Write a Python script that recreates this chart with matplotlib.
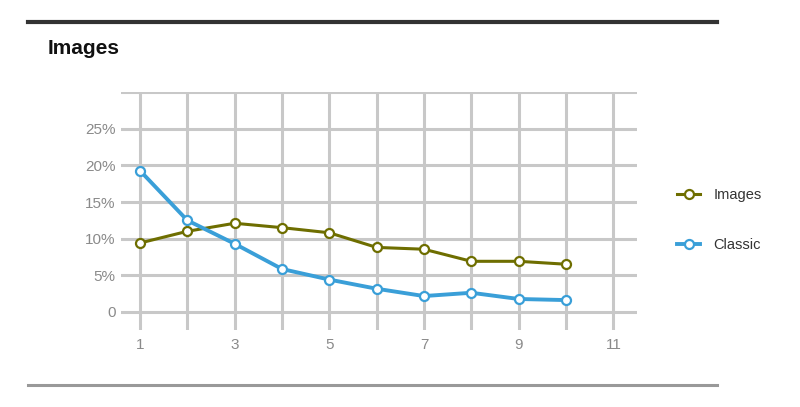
import matplotlib
matplotlib.use("Agg")
import matplotlib.pyplot as plt
from matplotlib.lines import Line2D

plt.rcParams['font.family'] = ['Liberation Sans Narrow', 'Liberation Sans', 'DejaVu Sans']

positions = [1, 2, 3, 4, 5, 6, 7, 8, 9, 10]
images = [9.4, 11.0, 12.1, 11.5, 10.8, 8.8, 8.55, 6.9, 6.9, 6.5]
classic = [19.3, 12.5, 9.3, 5.85, 4.4, 3.15, 2.15, 2.6, 1.75, 1.6]
y_ticks = [0, 5, 10, 15, 20, 25, 30]
y_labels = ["0", "5%", "10%", "15%", "20%", "25%", ""]
x_ticks = [1, 2, 3, 4, 5, 6, 7, 8, 9, 10, 11]
x_labels = ["1", "", "3", "", "5", "", "7", "", "9", "", "11"]

olive = "#6e6e00"
blue = "#3a9fd8"
grid_c = "#c8c8c8"
label_c = "#8a8a8a"

fig = plt.figure(figsize=(8, 4.07), dpi=100)
ax = fig.add_axes([0.15125, 0.189, 0.645, 0.586])

ax.plot(positions, images, color=olive, lw=2.2, marker="o", ms=6.5,
        mfc="white", mec=olive, mew=1.6, label="Images", zorder=3)
ax.plot(positions, classic, color=blue, lw=2.8, marker="o", ms=6.5,
        mfc="white", mec=blue, mew=1.6, label="Classic", zorder=3)

ax.set_xlim(0.6, 11.5)
ax.set_ylim(-2.5, 30.1)
ax.set_xticks(x_ticks)
ax.set_xticklabels(x_labels)
ax.set_yticks(y_ticks)
ax.set_yticklabels(y_labels)
ax.grid(True, color=grid_c, lw=2.2)
ax.set_axisbelow(True)
for s in ax.spines.values():
    s.set_visible(False)
ax.tick_params(length=0, colors=label_c, labelsize=11)
ax.tick_params(axis="y", pad=4)
ax.tick_params(axis="x", pad=6)

fig.text(0.06, 0.882, "Images", fontsize=15, fontweight="bold", color="#111111",
         va="center", ha="left")

fig.add_artist(Line2D([0.035, 0.896], [0.946, 0.946], color="#333333", lw=3,
                      transform=fig.transFigure))
fig.add_artist(Line2D([0.035, 0.896], [0.054, 0.054], color="#999999", lw=2.2,
                      transform=fig.transFigure))

leg = fig.legend(loc="center left", bbox_to_anchor=(0.83, 0.46), frameon=False,
                 fontsize=10.5, labelspacing=2.45, handlelength=1.6, handletextpad=0.9)
for t in leg.get_texts():
    t.set_color("#333333")

fig.savefig("out.png", dpi=100)
